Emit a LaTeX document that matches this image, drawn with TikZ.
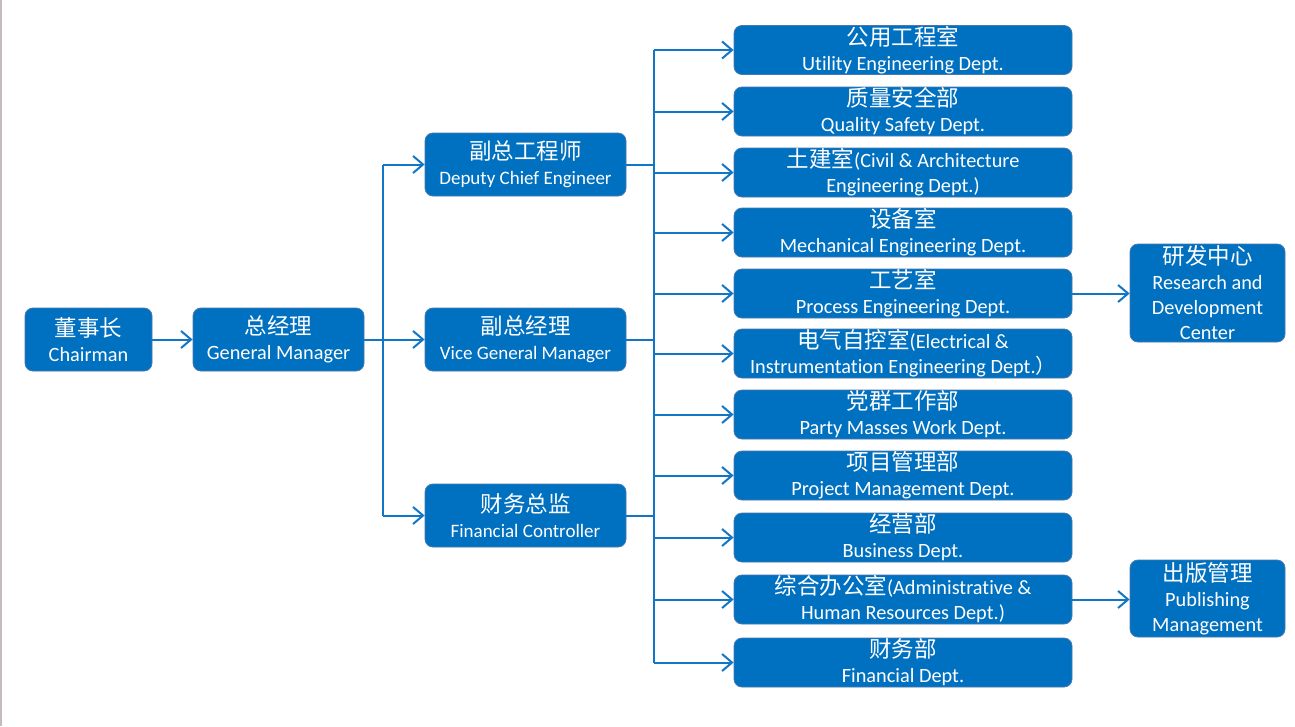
\documentclass[tikz,border=0pt]{standalone}
\usepackage{fontspec}
\setmainfont{Carlito}[Ligatures=NoCommon]
\newfontfamily\cjk{Noto Sans CJK SC}
\usetikzlibrary{arrows.meta}
\definecolor{boxblue}{HTML}{0070C0}
\definecolor{boxedge}{HTML}{4A78AE}
\definecolor{linkblue}{HTML}{1276C6}
\definecolor{edgepink}{HTML}{C9B9C2}
\newcommand{\zh}[1]{{\fontsize{22.5}{25}\cjk #1}}
\begin{document}
\begin{tikzpicture}[x=1pt,y=-1pt,
  box/.style={draw=boxedge, line width=0.8pt, fill=boxblue, rounded corners=8pt,
    text=white, align=center, inner sep=0pt,
    font=\fontsize{20.3}{25}\selectfont},
  mid/.style={box, minimum width=201pt, minimum height=63pt,
    font=\fontsize{19}{25}\selectfont},
  dept/.style={box, minimum width=338pt, minimum height=49pt},
  side/.style={box, minimum width=155pt},
  conn/.style={draw=linkblue, line width=2pt},
  arr/.style={conn, -{Straight Barb[length=10pt,width=17pt]}}]
\useasboundingbox (0,0) rectangle (1295,726);
\fill[white] (0,0) rectangle (1295,726);
\draw[edgepink, line width=1.5pt] (0.75,0) -- (0.75,726);

\node[box, minimum width=127pt, minimum height=63pt] (chair) at (88.5,339.5) {\zh{董事长}\\Chairman};
\node[box, minimum width=171pt, minimum height=63pt] (gm) at (278.5,339.5) {\zh{总经理}\\General Manager};
\node[mid] (dce) at (525.5,164.5) {\zh{副总工程师}\\Deputy Chief Engineer};
\node[mid] (vgm) at (525.5,339.5) {\zh{副总经理}\\Vice General Manager};
\node[mid] (fc) at (525.5,515.5) {\zh{财务总监}\\Financial Controller};

\node[dept] (r1) at (903,50) {\zh{公用工程室}\\Utility Engineering Dept.};
\node[dept] (r2) at (903,111.5) {\zh{质量安全部}\\Quality Safety Dept.};
\node[dept] (r3) at (903,172.5) {\zh{土建室}(Civil \& Architecture\\Engineering Dept.)};
\node[dept] (r4) at (903,232.5) {\zh{设备室}\\Mechanical Engineering Dept.};
\node[dept] (r5) at (903,293.5) {\zh{工艺室}\\Process Engineering Dept.};
\node[dept] (r6) at (903,353.5) {\zh{电气自控室}(Electrical \&\\Instrumentation Engineering Dept.{\cjk ）}};
\node[dept] (r7) at (903,414.5) {\zh{党群工作部}\\Party Masses Work Dept.};
\node[dept] (r8) at (903,475.5) {\zh{项目管理部}\\Project Management Dept.};
\node[dept] (r9) at (903,537.5) {\zh{经营部}\\Business Dept.};
\node[dept] (r10) at (903,599.5) {\zh{综合办公室}(Administrative \&\\Human Resources Dept.)};
\node[dept] (r11) at (903,662.5) {\zh{财务部}\\Financial Dept.};

\node[side, minimum height=98pt] (rd) at (1207.5,293) {\zh{研发中心}\\Research and\\Development\\Center};
\node[side, minimum height=77pt] (pub) at (1207.5,598.5) {\zh{出版管理}\\Publishing\\Management};

% chairman -> GM
\draw[arr] (chair.east) -- (gm.west);
% GM -> middle
\coordinate (trunk) at (383,339.5);
\draw[conn] (gm.east) -- (trunk);
\draw[conn] (dce.west -| trunk) -- (fc.west -| trunk);
\draw[arr] (dce.west -| trunk) -- (dce.west);
\draw[arr] (trunk) -- (vgm.west);
\draw[arr] (fc.west -| trunk) -- (fc.west);
% middle -> departments
\coordinate (bus) at (654,339.5);
\draw[conn] (dce.east) -- (dce.east -| bus);
\draw[conn] (vgm.east) -- (bus);
\draw[conn] (fc.east) -- (fc.east -| bus);
\draw[conn] (r1.west -| bus) -- (r11.west -| bus);
\foreach \r in {r1,r2,r3,r4,r5,r6,r7,r8,r9,r10,r11}
  \draw[arr] (\r.west -| bus) -- (\r.west);
% side boxes
\draw[arr] (r5.east) -- (rd.west |- r5.east);
\draw[arr] (r10.east) -- (pub.west |- r10.east);
\end{tikzpicture}
\end{document}
